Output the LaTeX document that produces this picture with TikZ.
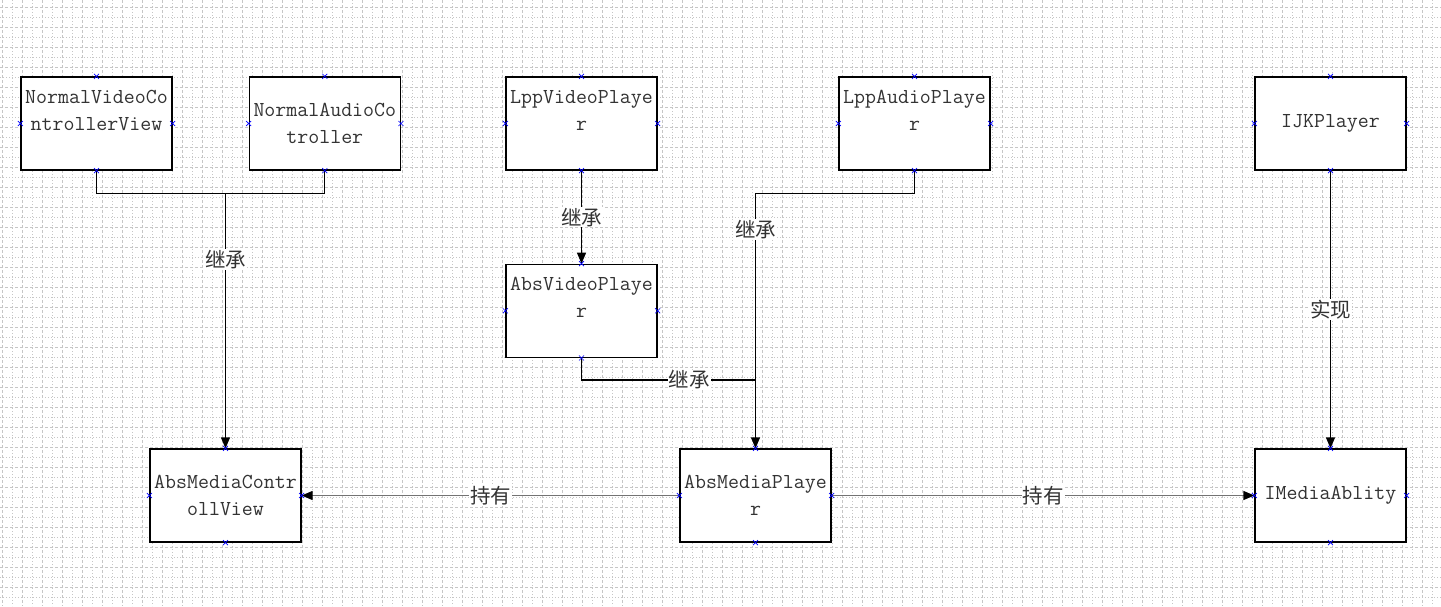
\documentclass[tikz,border=0pt]{standalone}
\usepackage{fontspec}
\newfontfamily\cjk{Noto Sans CJK SC}
\usetikzlibrary{positioning,arrows.meta}
\colorlet{gridGray}{gray!45}
\colorlet{textGray}{black!80}
\colorlet{holdGray}{black!55}

\begin{document}
\begin{tikzpicture}[x=1pt, y=-1pt,
    classbox/.style={draw, line width=1.3pt, fill=white, minimum width=151pt, minimum height=93pt,
        inner sep=2pt, align=center, font=\fontsize{21.3}{27}\ttfamily, text=textGray},
    relation/.style={draw, line width=1.3pt, -{Triangle[length=11pt, width=9pt, color=black]}},
    tag/.style={fill=white, inner sep=1pt, font=\fontsize{20.5}{24}\cjk, text=textGray},
    anchormark/.style={draw=blue, line width=0.6pt}]
        \fill[white] (0,0) rectangle (1441,606);
        \useasboundingbox (0,0) rectangle (1441,606);
        % grid
        \foreach \gx in {2,22,...,1442} \draw[gridGray, line width=0.8pt, dash pattern=on 3pt off 2pt] (\gx,0) -- (\gx,606);
        \foreach \gx in {12,32,...,1432} \draw[gridGray, line width=0.8pt, dash pattern=on 1pt off 2pt] (\gx,0) -- (\gx,606);
        \foreach \gy in {7,27,...,607} \draw[gridGray, line width=0.8pt, dash pattern=on 3pt off 2pt] (0,\gy) -- (1441,\gy);
        \foreach \gy in {17,37,...,597} \draw[gridGray, line width=0.8pt, dash pattern=on 1pt off 2pt] (0,\gy) -- (1441,\gy);

        % top row
        \node[classbox] (nvcv) at (96.5,123.5) {NormalVideoCo\\ntrollerView\\\mbox{}};
        \node[classbox, right=76pt of nvcv] (nac) {NormalAudioCo\\troller};
        \node[classbox] (lvp) at (581.5,123.5) {LppVideoPlaye\\r\\\mbox{}};
        \node[classbox] (lap) at (914.5,123.5) {LppAudioPlaye\\r\\\mbox{}};
        \node[classbox] (ijk) at (1330.5,123.5) {IJKPlayer};
        \node[classbox, below=93pt of lvp] (avp) {AbsVideoPlaye\\r\\\mbox{}};

        % bottom row
        \node[classbox] (amcv) at (225.5,495.5) {AbsMediaContr\\ollView};
        \node[classbox] (amp) at (755.5,495.5) {AbsMediaPlaye\\r};
        \node[classbox] (ima) at (1330.5,495.5) {IMediaAblity};

        \coordinate (vjoin) at (225.5,193);
        \coordinate (pjoin) at (755.5,380);

        \draw[line width=1.3pt] (nvcv.south) -- ++(0,23) -| (nac.south);
        \draw[relation] (vjoin) -- node[tag, pos=0.26] {继承} (amcv.north);
        \draw[relation] (lvp.south) -- node[tag] {继承} (avp.north);
        \draw[relation] (lap.south) -- ++(0,23) -| node[tag, pos=0.57] {继承} (amp.north);
        \draw[line width=1.3pt] (avp.south) |- node[tag, pos=0.81] {继承} (pjoin);
        \draw[relation, holdGray] (amp.west) -- node[tag] {持有} (amcv.east);
        \draw[relation, holdGray] (amp.east) -- node[tag] {持有} (ima.west);
        \draw[relation] (ijk.south) -- node[tag] {实现} (ima.north);

        % connection points
        \foreach \n in {nvcv,nac,lvp,lap,ijk,avp,amcv,amp,ima}
            \foreach \a in {north,south,east,west}
                \draw[anchormark] (\n.\a) +(-2.5,-2.5) -- +(2.5,2.5) +(-2.5,2.5) -- +(2.5,-2.5);
    \end{tikzpicture}
\end{document}
